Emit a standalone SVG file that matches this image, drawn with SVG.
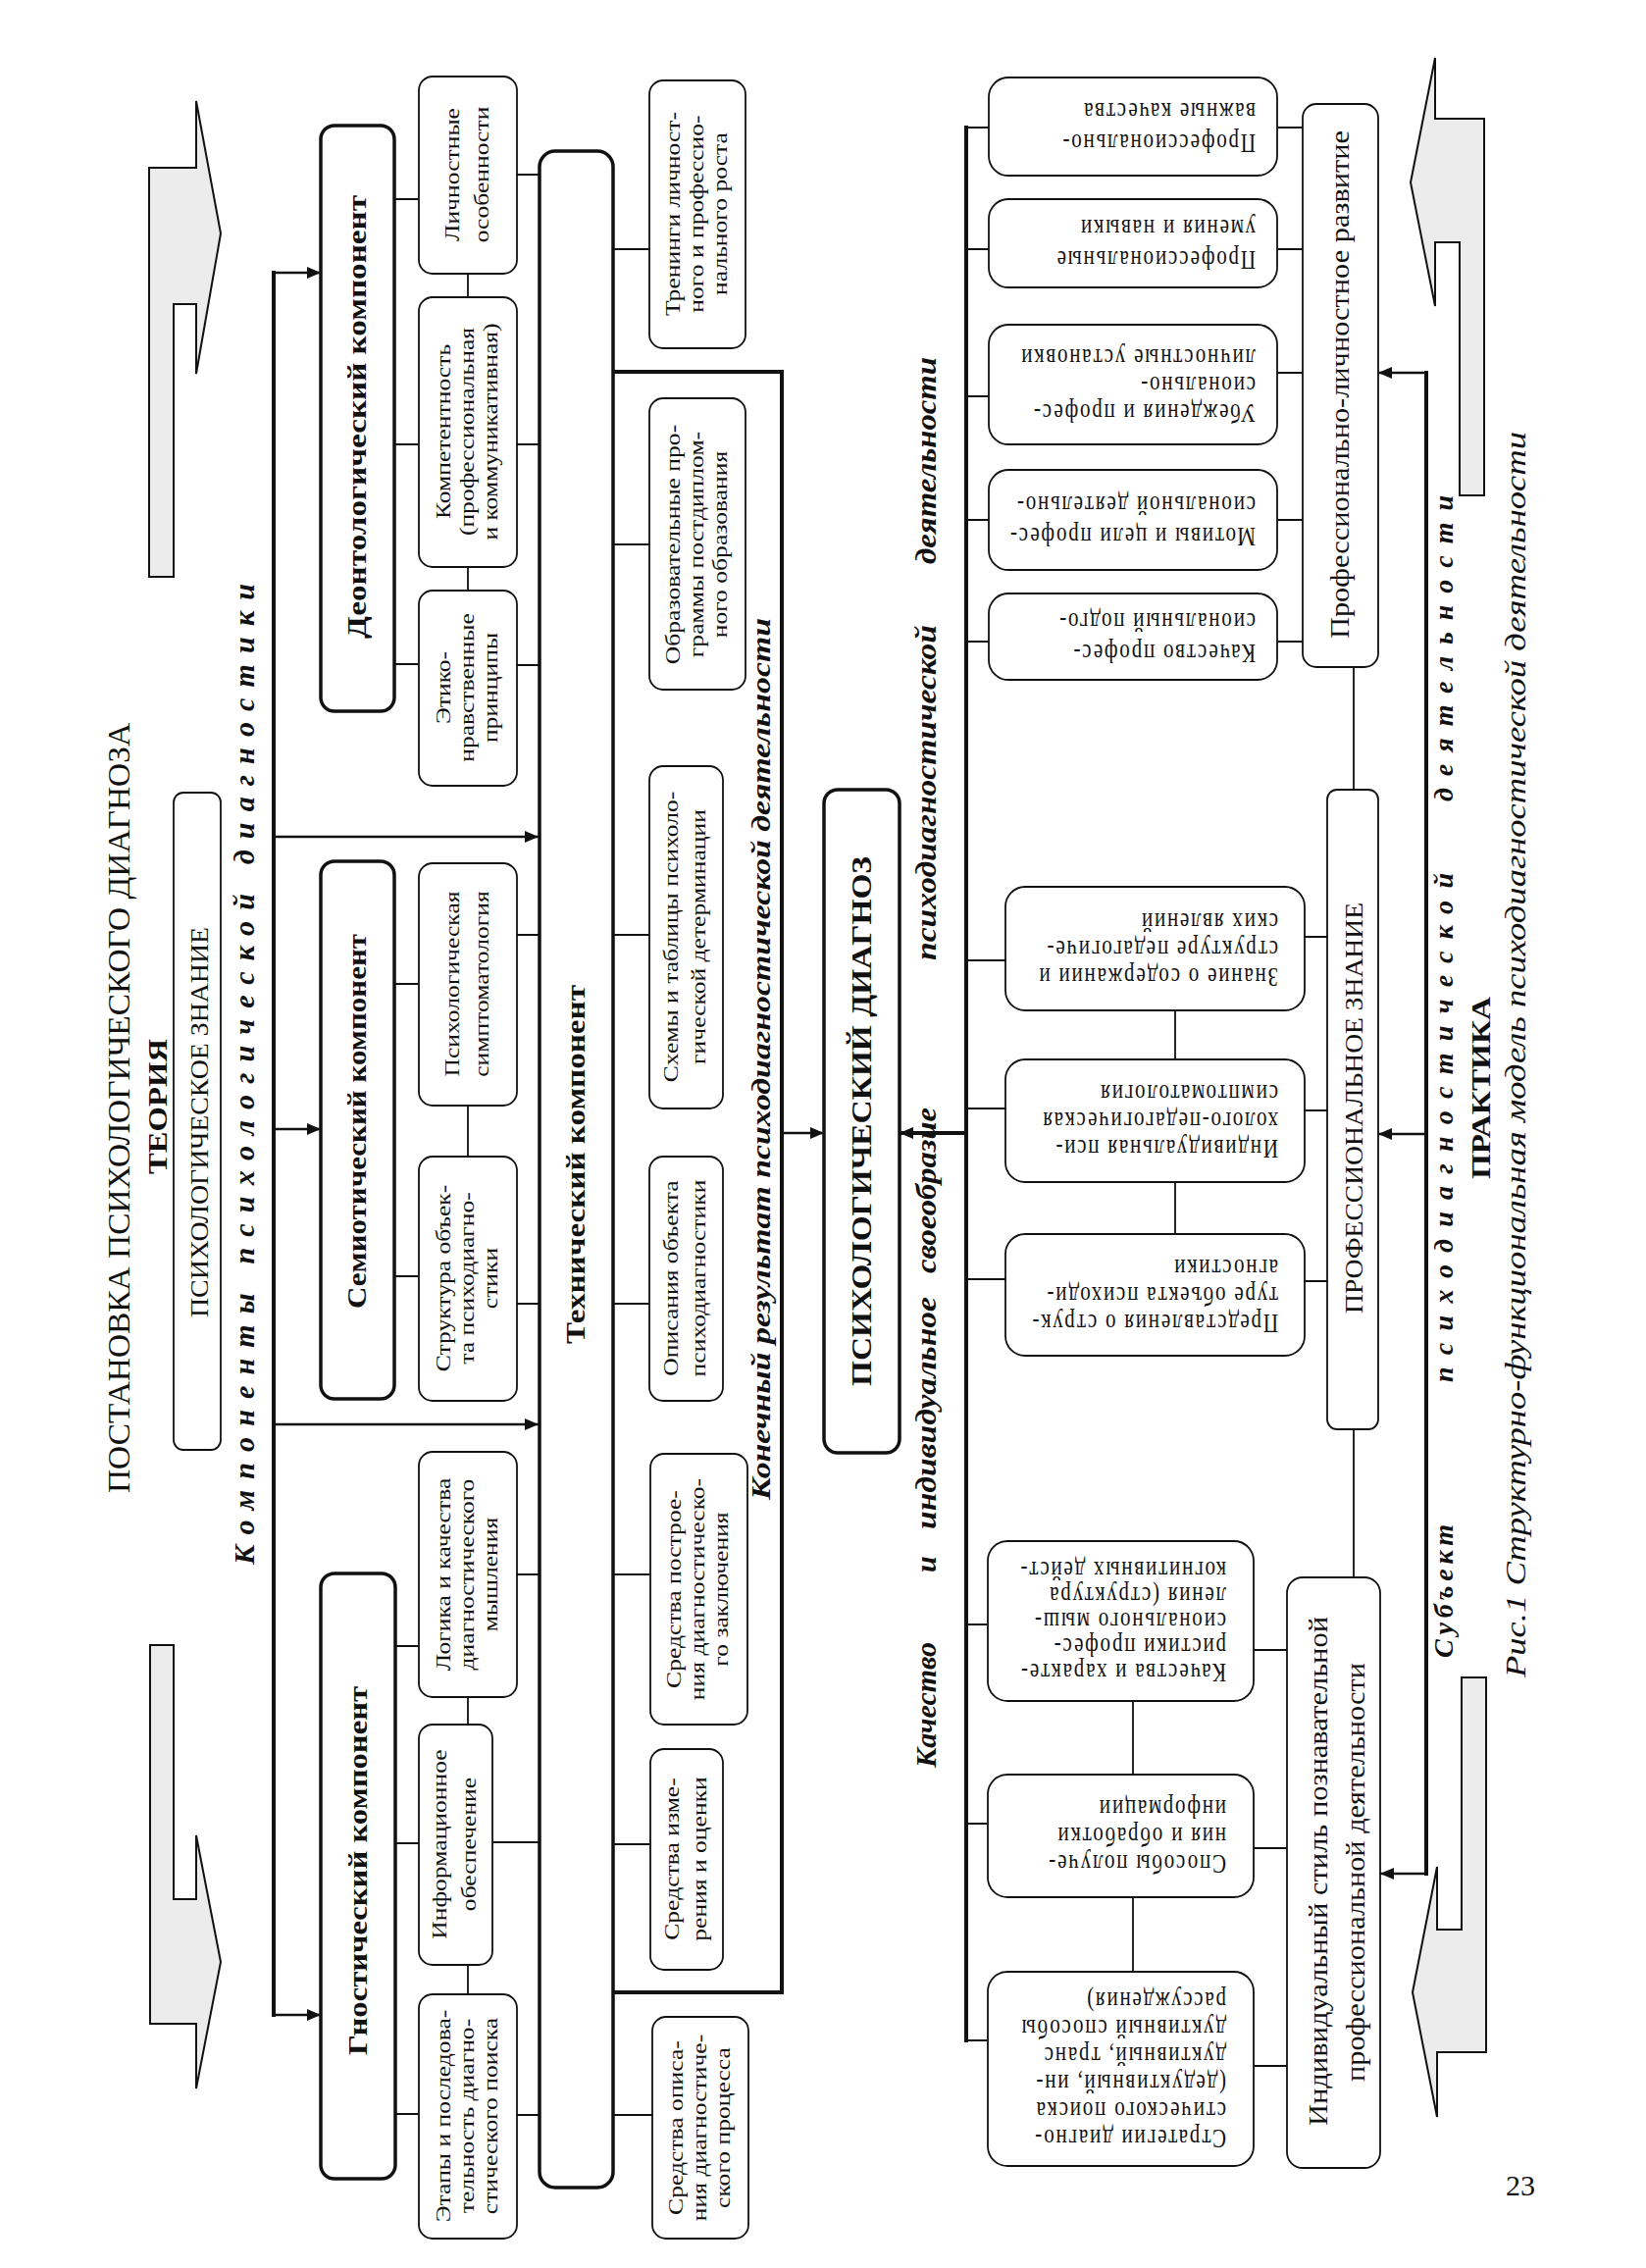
<svg xmlns="http://www.w3.org/2000/svg" width="1678" height="2312" viewBox="0 0 1678 2312">
<style>
text{font-family:"Liberation Serif","Times New Roman",serif;fill:#111}
.b{font-weight:bold}
.i{font-style:italic}
.s{font-size:21px}
.p{font-size:21px;letter-spacing:1.8px}
.box{fill:#fff;stroke:#111;stroke-width:1.8}
.cbox{fill:#fff;stroke:#111;stroke-width:3.5}
.ln{stroke:#111;stroke-width:1.8;fill:none}
.th{stroke:#111;stroke-width:4;fill:none}
.ar{stroke:#111;stroke-width:2.5;fill:none;marker-end:url(#ah)}
.ar4{stroke:#111;stroke-width:4;fill:none;marker-end:url(#ah)}
.blk{fill:#ececec;stroke:#111;stroke-width:2}
</style>
<defs>
<marker id="ah" viewBox="0 0 14 12" refX="14" refY="6" markerWidth="14" markerHeight="12" markerUnits="userSpaceOnUse" orient="auto"><path d="M0,0 L14,6 L0,12 z" fill="#111"/></marker>
</defs>
<rect width="1678" height="2312" fill="#fff"/>

<g id="block-arrows">
<polygon class="blk" points="152,171 200,171 200,103 225,238 200,381 200,310 177,310 177,588 152,588"/>
<polygon class="blk" points="153,1677 177,1677 177,1936 200,1936 200,1871 225,2000 200,2129 200,2063 153,2063"/>
<polygon class="blk" points="1463,59 1463,121 1513,121 1513,505 1488,505 1488,247 1463,247 1463,312 1438,186"/>
<polygon class="blk" points="1490,1710 1515,1710 1515,2092 1465,2092 1465,2158 1440,2031 1465,1903 1465,1967 1490,1967"/>
</g>

<g id="connectors">
<line class="th" x1="279" y1="276" x2="279" y2="2056"/>
<line class="ar" x1="279" y1="278" x2="327" y2="278"/>
<line class="ar" x1="279" y1="1151" x2="327" y2="1151"/>
<line class="ar" x1="279" y1="2054" x2="327" y2="2054"/>
<line class="ar" x1="279" y1="853" x2="549" y2="853"/>
<line class="ar" x1="279" y1="1452" x2="549" y2="1452"/>
<path class="ln" d="M477,279V303M477,578V602M477,1127V1179M477,1730V1758M477,2003V2033"/>
<path class="ln" d="M402,203H427M402,453H427M402,677H427M402,1003H427M402,1301H427M402,1678H427M402,1879H427M402,2155H427"/>
<path class="ln" d="M527,178H550M527,453H550M527,678H550M527,953H550M527,1329H550M527,1605H550M502,1878H550M527,2156H550"/>
<path class="ln" d="M625,254H662M625,555H662M625,953H662M625,1329H662M625,1605H663M625,1880H663M625,2156H665"/>
<path class="th" d="M625,379H797V2031H625"/>
<line class="ar" x1="797" y1="1155" x2="840" y2="1155"/>
<line class="th" x1="985" y1="128" x2="985" y2="2082"/>
<line class="ar4" x1="987" y1="1155" x2="917" y2="1155"/>
<path class="ln" d="M985,130H1008M985,254H1008M985,404H1008M985,530H1008M985,654H1008M985,979H1025M985,1130H1025M985,1304H1025M985,1656H1007M985,1859H1007M985,2080H1007"/>
<path class="ln" d="M1198,1030V1080M1198,1205V1258M1155,1734V1809M1155,1934V2010"/>
<path class="ln" d="M1302,130H1328M1302,254H1328M1302,380H1328M1302,530H1328M1302,654H1328M1330,955H1353M1330,1132H1353M1330,1306H1353M1278,1682H1312M1278,1884H1312M1278,2106H1312M1313,2076H1338"/>
<path class="ln" d="M1380,680V805M1380,1457V1608"/>
<line class="th" x1="1454" y1="378" x2="1454" y2="1912"/>
<line class="ar" x1="1454" y1="380" x2="1405" y2="380"/>
<line class="ar" x1="1454" y1="1156" x2="1405" y2="1156"/>
<line class="ar" x1="1454" y1="1910" x2="1407" y2="1910"/>
</g>

<g id="headings">
<text font-size="32" transform="translate(121 1130) rotate(-90)" x="-392" y="11" textLength="785" lengthAdjust="spacingAndGlyphs">ПОСТАНОВКА ПСИХОЛОГИЧЕСКОГО ДИАГНОЗА</text>
<text class="b" font-size="27" transform="translate(161 1128) rotate(-90)" x="-69" y="9" textLength="138" lengthAdjust="spacingAndGlyphs">ТЕОРИЯ</text>
<text class="b i" font-size="30" transform="translate(251 1095) rotate(-90)" x="-500" y="8" textLength="1000" lengthAdjust="spacing">Компоненты психологической диагностики</text>
<text class="b i" font-size="28" transform="translate(777 1080) rotate(-90)" x="-449" y="8" textLength="899" lengthAdjust="spacingAndGlyphs">Конечный результат психодиагностической деятельности</text>
<g class="b i" font-size="30">
<text transform="translate(946 1738) rotate(-90)" x="-64" y="8" textLength="128" lengthAdjust="spacingAndGlyphs">Качество</text>
<text transform="translate(946 1596) rotate(-90)" x="-7" y="8">и</text>
<text transform="translate(946 1441) rotate(-90)" x="-118" y="8" textLength="237" lengthAdjust="spacingAndGlyphs">индивидуальное</text>
<text transform="translate(946 1214) rotate(-90)" x="-84" y="8" textLength="169" lengthAdjust="spacingAndGlyphs">своеобразие</text>
<text transform="translate(946 808) rotate(-90)" x="-171" y="8" textLength="342" lengthAdjust="spacingAndGlyphs">психодиагностической</text>
<text transform="translate(946 470) rotate(-90)" x="-105" y="8" textLength="211" lengthAdjust="spacingAndGlyphs">деятельности</text>
</g>
<g class="b i" font-size="28">
<text transform="translate(1473 1622) rotate(-90)" x="-68" y="8" textLength="136" lengthAdjust="spacing">Субъект</text>
<text transform="translate(1473 1150) rotate(-90)" x="-259" y="8" textLength="519" lengthAdjust="spacing">психодиагностической</text>
<text transform="translate(1473 661) rotate(-90)" x="-156" y="8" textLength="312" lengthAdjust="spacing">деятельности</text>
</g>
<text class="b" font-size="28" transform="translate(1510 1109) rotate(-90)" x="-93" y="9" textLength="186" lengthAdjust="spacingAndGlyphs">ПРАКТИКА</text>
<text class="i" font-size="30" transform="translate(1547 1075) rotate(-90)" x="-635" y="8" textLength="1270" lengthAdjust="spacingAndGlyphs">Рис.1 Структурно-функциональная модель психодиагностической деятельности</text>
<text font-size="30" x="1550" y="2238" text-anchor="middle">23</text>
</g>

<g id="psych-knowledge">
<rect class="box" x="177" y="808" width="48" height="670" rx="10"/>
<text font-size="25" transform="translate(204 1144) rotate(-90)" x="-199" y="8" textLength="398" lengthAdjust="spacingAndGlyphs">ПСИХОЛОГИЧЕСКОЕ ЗНАНИЕ</text>
</g>

<g id="deont">
<rect class="cbox" x="327" y="128" width="75" height="597" rx="14"/>
<text class="b" font-size="27" transform="translate(364 425) rotate(-90)" x="-226" y="9" textLength="452" lengthAdjust="spacingAndGlyphs">Деонтологический компонент</text>
</g>
<g id="semiot">
<rect class="cbox" x="327" y="878" width="75" height="548" rx="14"/>
<text class="b" font-size="27" transform="translate(364 1143) rotate(-90)" x="-191" y="9" textLength="382" lengthAdjust="spacingAndGlyphs">Семиотический компонент</text>
</g>
<g id="gnost">
<rect class="cbox" x="327" y="1604" width="76" height="617" rx="14"/>
<text class="b" font-size="27" transform="translate(365 1907) rotate(-90)" x="-188" y="9" textLength="376" lengthAdjust="spacingAndGlyphs">Гностический компонент</text>
</g>
<g id="tech">
<rect class="cbox" x="550" y="154" width="75" height="2076" rx="16"/>
<text class="b" font-size="27" transform="translate(587 1187) rotate(-90)" x="-183" y="9" textLength="366" lengthAdjust="spacingAndGlyphs">Технический компонент</text>
</g>

<g id="n-lichn"><rect class="box" x="427" y="78" width="100" height="201" rx="14"/>
<text class="s" text-anchor="middle" transform="translate(477 178) rotate(-90) scale(1.22 1)"><tspan x="0" y="-8.7">Личностные</tspan><tspan x="0" y="21.3">особенности</tspan></text></g>
<g id="n-kompet"><rect class="box" x="427" y="303" width="100" height="275" rx="14"/>
<text class="s" text-anchor="middle" transform="translate(477 440) rotate(-90) scale(1.22 1)"><tspan x="0" y="-17.7">Компетентность</tspan><tspan x="0" y="6.3">(профессиональная</tspan><tspan x="0" y="30.3">и коммуникативная)</tspan></text></g>
<g id="n-etiko"><rect class="box" x="427" y="602" width="100" height="199" rx="14"/>
<text class="s" text-anchor="middle" transform="translate(477 701) rotate(-90) scale(1.22 1)"><tspan x="0" y="-17.7">Этико-</tspan><tspan x="0" y="6.3">нравственные</tspan><tspan x="0" y="30.3">принципы</tspan></text></g>
<g id="n-simpt"><rect class="box" x="427" y="880" width="100" height="247" rx="14"/>
<text class="s" text-anchor="middle" transform="translate(477 1003) rotate(-90) scale(1.22 1)"><tspan x="0" y="-8.7">Психологическая</tspan><tspan x="0" y="21.3">симптоматология</tspan></text></g>
<g id="n-struct"><rect class="box" x="427" y="1179" width="100" height="249" rx="14"/>
<text class="s" text-anchor="middle" transform="translate(477 1303) rotate(-90) scale(1.22 1)"><tspan x="0" y="-17.7">Структура объек-</tspan><tspan x="0" y="6.3">та психодиагно-</tspan><tspan x="0" y="30.3">стики</tspan></text></g>
<g id="n-logika"><rect class="box" x="427" y="1480" width="100" height="250" rx="14"/>
<text class="s" text-anchor="middle" transform="translate(477 1605) rotate(-90) scale(1.22 1)"><tspan x="0" y="-17.7">Логика и качества</tspan><tspan x="0" y="6.3">диагностического</tspan><tspan x="0" y="30.3">мышления</tspan></text></g>
<g id="n-inform"><rect class="box" x="427" y="1758" width="75" height="245" rx="14"/>
<text class="s" text-anchor="middle" transform="translate(464 1880) rotate(-90) scale(1.22 1)"><tspan x="0" y="-8.7">Информационное</tspan><tspan x="0" y="21.3">обеспечение</tspan></text></g>
<g id="n-etapy"><rect class="box" x="427" y="2033" width="100" height="249" rx="14"/>
<text class="s" text-anchor="middle" transform="translate(477 2157) rotate(-90) scale(1.22 1)"><tspan x="0" y="-17.7">Этапы и последова-</tspan><tspan x="0" y="6.3">тельность диагно-</tspan><tspan x="0" y="30.3">стического поиска</tspan></text></g>

<g id="n-trening"><rect class="box" x="662" y="82" width="98" height="273" rx="14"/>
<text class="s" text-anchor="middle" transform="translate(711 218) rotate(-90) scale(1.22 1)"><tspan x="0" y="-17.7">Тренинги личност-</tspan><tspan x="0" y="6.3">ного и профессио-</tspan><tspan x="0" y="30.3">нального роста</tspan></text></g>
<g id="n-obraz"><rect class="box" x="662" y="406" width="98" height="297" rx="14"/>
<text class="s" text-anchor="middle" transform="translate(711 555) rotate(-90) scale(1.22 1)"><tspan x="0" y="-17.7">Образовательные про-</tspan><tspan x="0" y="6.3">граммы постдиплом-</tspan><tspan x="0" y="30.3">ного образования</tspan></text></g>
<g id="n-shemy"><rect class="box" x="662" y="781" width="75" height="349" rx="14"/>
<text class="s" text-anchor="middle" transform="translate(699 955) rotate(-90) scale(1.22 1)"><tspan x="0" y="-7.7">Схемы и таблицы психоло-</tspan><tspan x="0" y="20.3">гической детерминации</tspan></text></g>
<g id="n-opis"><rect class="box" x="662" y="1179" width="75" height="249" rx="14"/>
<text class="s" text-anchor="middle" transform="translate(699 1303) rotate(-90) scale(1.22 1)"><tspan x="0" y="-7.7">Описания объекта</tspan><tspan x="0" y="20.3">психодиагностики</tspan></text></g>
<g id="n-postr"><rect class="box" x="663" y="1482" width="99" height="276" rx="14"/>
<text class="s" text-anchor="middle" transform="translate(712 1620) rotate(-90) scale(1.22 1)"><tspan x="0" y="-17.7">Средства построе-</tspan><tspan x="0" y="6.3">ния диагностическо-</tspan><tspan x="0" y="30.3">го заключения</tspan></text></g>
<g id="n-izmer"><rect class="box" x="663" y="1783" width="74" height="225" rx="14"/>
<text class="s" text-anchor="middle" transform="translate(700 1895) rotate(-90) scale(1.22 1)"><tspan x="0" y="-7.7">Средства изме-</tspan><tspan x="0" y="20.3">рения и оценки</tspan></text></g>
<g id="n-opisproc"><rect class="box" x="665" y="2056" width="98" height="226" rx="14"/>
<text class="s" text-anchor="middle" transform="translate(714 2169) rotate(-90) scale(1.22 1)"><tspan x="0" y="-17.7">Средства описа-</tspan><tspan x="0" y="6.3">ния диагностиче-</tspan><tspan x="0" y="30.3">ского процесса</tspan></text></g>

<g id="diagnoz">
<rect class="cbox" x="840" y="805" width="77" height="676" rx="14"/>
<text class="b" font-size="30" transform="translate(878 1143) rotate(-90)" x="-270" y="10" textLength="540" lengthAdjust="spacingAndGlyphs">ПСИХОЛОГИЧЕСКИЙ ДИАГНОЗ</text>
</g>

<g id="p-a"><rect class="box" x="1008" y="79" width="294" height="100" rx="20"/>
<text class="p" transform="translate(1280 129) rotate(180) scale(1 1.25)"><tspan x="0" y="-6.5">Профессионально-</tspan><tspan x="0" y="19.1">важные качества</tspan></text></g>
<g id="p-b"><rect class="box" x="1008" y="203" width="294" height="90" rx="20"/>
<text class="p" transform="translate(1280 248) rotate(180) scale(1 1.25)"><tspan x="0" y="-6.5">Профессиональные</tspan><tspan x="0" y="19.1">умения и навыки</tspan></text></g>
<g id="p-c"><rect class="box" x="1008" y="331" width="294" height="122" rx="20"/>
<text class="p" transform="translate(1280 392) rotate(180) scale(1 1.25)"><tspan x="0" y="-16.1">Убеждения и профес-</tspan><tspan x="0" y="6.3">сионально-</tspan><tspan x="0" y="28.7">личностные установки</tspan></text></g>
<g id="p-d"><rect class="box" x="1008" y="479" width="294" height="102" rx="20"/>
<text class="p" transform="translate(1280 530) rotate(180) scale(1 1.25)"><tspan x="0" y="-6.5">Мотивы и цели профес-</tspan><tspan x="0" y="19.1">сиональной деятельно-</tspan></text></g>
<g id="p-e"><rect class="box" x="1008" y="605" width="294" height="88" rx="20"/>
<text class="p" transform="translate(1280 649) rotate(180) scale(1 1.25)"><tspan x="0" y="-6.5">Качество профес-</tspan><tspan x="0" y="19.1">сиональный подго-</tspan></text></g>
<g id="p-f"><rect class="box" x="1025" y="904" width="305" height="126" rx="20"/>
<text class="p" transform="translate(1303 967) rotate(180) scale(1 1.25)"><tspan x="0" y="-16.1">Знание о содержании и</tspan><tspan x="0" y="6.3">структуре педагогиче-</tspan><tspan x="0" y="28.7">ских явлений</tspan></text></g>
<g id="p-g"><rect class="box" x="1025" y="1080" width="305" height="125" rx="20"/>
<text class="p" transform="translate(1303 1142) rotate(180) scale(1 1.25)"><tspan x="0" y="-16.1">Индивидуальная пси-</tspan><tspan x="0" y="6.3">холого-педагогическая</tspan><tspan x="0" y="28.7">симптоматология</tspan></text></g>
<g id="p-h"><rect class="box" x="1025" y="1258" width="305" height="124" rx="20"/>
<text class="p" transform="translate(1303 1320) rotate(180) scale(1 1.25)"><tspan x="0" y="-16.1">Представления о струк-</tspan><tspan x="0" y="6.3">туре объекта психоди-</tspan><tspan x="0" y="28.7">агностики</tspan></text></g>
<g id="p-i"><rect class="box" x="1007" y="1571" width="271" height="163" rx="20"/>
<text class="p" transform="translate(1250 1652) rotate(180) scale(1 1.25)"><tspan x="0" y="-35.3">Качества и характе-</tspan><tspan x="0" y="-14.5">ристики профес-</tspan><tspan x="0" y="6.3">сионального мыш-</tspan><tspan x="0" y="27.1">ления  (структура</tspan><tspan x="0" y="47.9">когнитивных дейст-</tspan></text></g>
<g id="p-j"><rect class="box" x="1007" y="1809" width="271" height="125" rx="20"/>
<text class="p" transform="translate(1250 1871) rotate(180) scale(1 1.25)"><tspan x="0" y="-16.1">Способы получе-</tspan><tspan x="0" y="6.3">ния и обработки</tspan><tspan x="0" y="28.7">информации</tspan></text></g>
<g id="p-k"><rect class="box" x="1007" y="2010" width="271" height="198" rx="20"/>
<text class="p" transform="translate(1250 2109) rotate(180) scale(1 1.25)"><tspan x="0" y="-49.7">Стратегии диагно-</tspan><tspan x="0" y="-27.3">стического поиска</tspan><tspan x="0" y="-4.9">(дедуктивный, ин-</tspan><tspan x="0" y="17.5">дуктивный, транс</tspan><tspan x="0" y="39.9">дуктивный способы</tspan><tspan x="0" y="62.3">рассуждения)</tspan></text></g>

<g id="prof-lichn">
<rect class="box" x="1328" y="106" width="77" height="574" rx="14"/>
<text font-size="27" transform="translate(1367 392) rotate(-90)" x="-259" y="8" textLength="518" lengthAdjust="spacingAndGlyphs">Профессионально-личностное развитие</text>
</g>
<g id="prof-znanie">
<rect class="box" x="1353" y="805" width="52" height="652" rx="10"/>
<text font-size="25" transform="translate(1381 1130) rotate(-90)" x="-209" y="8" textLength="419" lengthAdjust="spacingAndGlyphs">ПРОФЕССИОНАЛЬНОЕ ЗНАНИЕ</text>
</g>
<g id="indiv-stil">
<rect class="box" x="1312" y="1608" width="95" height="602" rx="16"/>
<text font-size="27" transform="translate(1345 1908) rotate(-90)" x="-259" y="8" textLength="519" lengthAdjust="spacingAndGlyphs">Индивидуальный стиль познавательной</text>
<text font-size="27" transform="translate(1383 1909) rotate(-90)" x="-213" y="8" textLength="427" lengthAdjust="spacingAndGlyphs">профессиональной деятельности</text>
</g>
</svg>
